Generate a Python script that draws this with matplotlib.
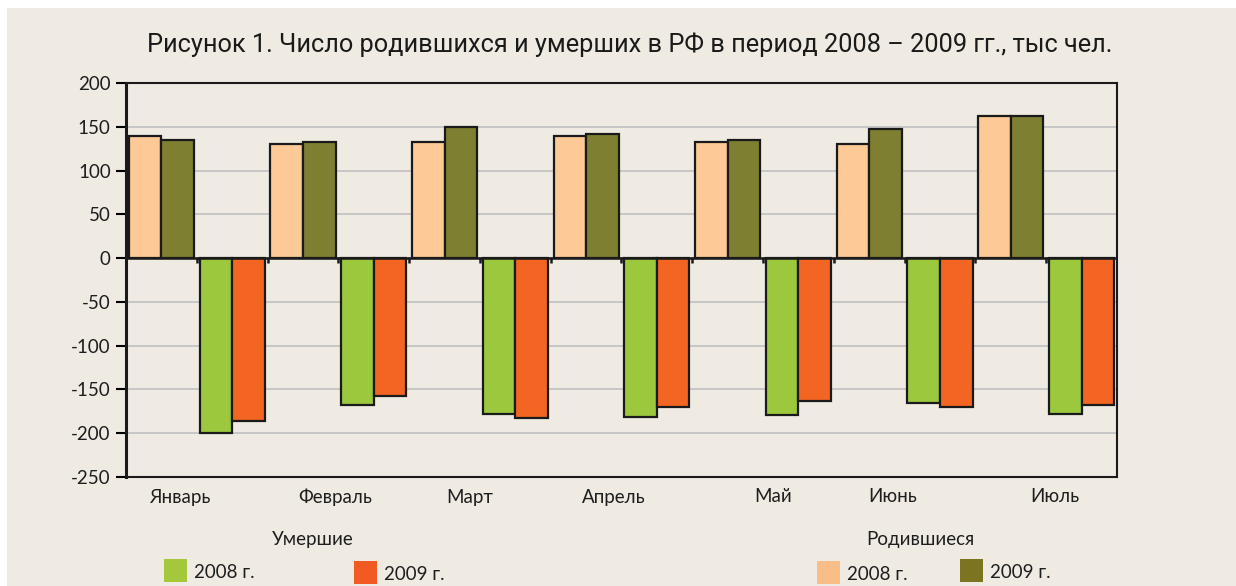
import numpy as np
import matplotlib.pyplot as plt
from matplotlib.patches import Rectangle

# ---- данные (тыс. чел.) ----
months = ['Январь', 'Февраль', 'Март', 'Апрель', 'Май', 'Июнь', 'Июль']
born_2008 = [140, 130, 133, 140, 133, 130, 162]
born_2009 = [135, 133, 150, 142, 135, 147, 162]
died_2008 = [-200, -168, -178, -181, -179, -166, -178]
died_2009 = [-186, -158, -183, -170, -163, -170, -168]

title = 'Рисунок 1. Число родившихся и умерших в РФ в период 2008 – 2009 гг., тыс чел.'
yticks = [-250, -200, -150, -100, -50, 0, 50, 100, 150, 200]

# ---- цвета ----
bg = '#EFEBE3'
c_b08 = '#FDC997'
c_b09 = '#7E7F31'
c_d08 = '#9BC83C'
c_d09 = '#F26522'
leg_b08 = '#F9BE88'
leg_b09 = '#7C7420'
leg_d08 = '#A3C93A'
leg_d09 = '#F15A22'
txt = '#1e1e1e'
fs = 13.5

W, H = 1236, 586
fig = plt.figure(figsize=(W / 100, H / 100), dpi=100, facecolor='white')
fig.add_artist(Rectangle((7 / W, 0), 1, 1 - 8 / H, transform=fig.transFigure,
                         facecolor=bg, edgecolor='none', zorder=0))

ax = fig.add_axes([126 / W, 1 - 477 / H, (1117 - 126) / W, (477 - 83) / H])
ax.set_facecolor(bg)

n = len(months)
x_born = np.arange(n) * 2          # родившиеся - чётные категории
x_died = np.arange(n) * 2 + 1      # умершие - нечётные
w = 0.46

kw = dict(width=w, edgecolor='#1a1a1a', linewidth=1.6, zorder=3)
ax.bar(x_born - w / 2, born_2008, color=c_b08, **kw)
ax.bar(x_born + w / 2, born_2009, color=c_b09, **kw)
ax.bar(x_died - w / 2, died_2008, color=c_d08, **kw)
ax.bar(x_died + w / 2, died_2009, color=c_d09, **kw)

ax.set_xlim(-0.5, 2 * n - 0.5)
ax.set_ylim(-250, 200)
ax.set_yticks(yticks)
ax.set_yticklabels([str(t) for t in yticks], fontfamily='Lato', fontsize=fs, color=txt)
ax.tick_params(axis='y', length=7, width=1.5, direction='out', pad=4)
ax.set_xticks([])

# сетка
for t in yticks:
    if t not in (0, 200, -250):
        ax.axhline(t, color='#C4C4C4', linewidth=1.3, zorder=1)

for s in ax.spines.values():
    s.set_color('#1a1a1a')
    s.set_linewidth(1.5)
ax.spines['left'].set_linewidth(2.2)

# ось категорий на нуле
ax.axhline(0, color='#1a1a1a', linewidth=1.8, zorder=4)
bounds = np.arange(2 * n - 1) + 0.5
ax.vlines(bounds, -6, 1.5, color='#1a1a1a', linewidth=1.8, zorder=4)

# подписи месяцев
label_px = [181, 335, 470, 614, 773, 893, 1055]
for m, px in zip(months, label_px):
    fig.text(px / W, 1 - 497 / H, m, ha='center', va='center',
             fontfamily='Lato', fontsize=fs, color=txt)

fig.text(630 / W, 1 - 45 / H, title, ha='center', va='center',
         fontfamily='Roboto', fontsize=18.3, color='#1a1a1a')

# легенда
def legend_item(x, y, color, text):
    fig.add_artist(Rectangle((x / W, 1 - (y + 23) / H), 23 / W, 23 / H,
                             transform=fig.transFigure, facecolor=color,
                             edgecolor='none'))
    fig.text((x + 30) / W, 1 - (y + 13) / H, text, ha='left', va='center',
             fontfamily='Lato', fontsize=fs, color=txt)

fig.text(313 / W, 1 - 539 / H, 'Умершие', ha='center', va='center',
         fontfamily='Lato', fontsize=fs, color=txt)
fig.text(920 / W, 1 - 539 / H, 'Родившиеся', ha='center', va='center',
         fontfamily='Lato', fontsize=fs, color=txt)
legend_item(164, 559, leg_d08, '2008 г.')
legend_item(354, 561, leg_d09, '2009 г.')
legend_item(817, 561, leg_b08, '2008 г.')
legend_item(960, 559, leg_b09, '2009 г.')

fig.savefig('out.png', dpi=100, facecolor=fig.get_facecolor())
